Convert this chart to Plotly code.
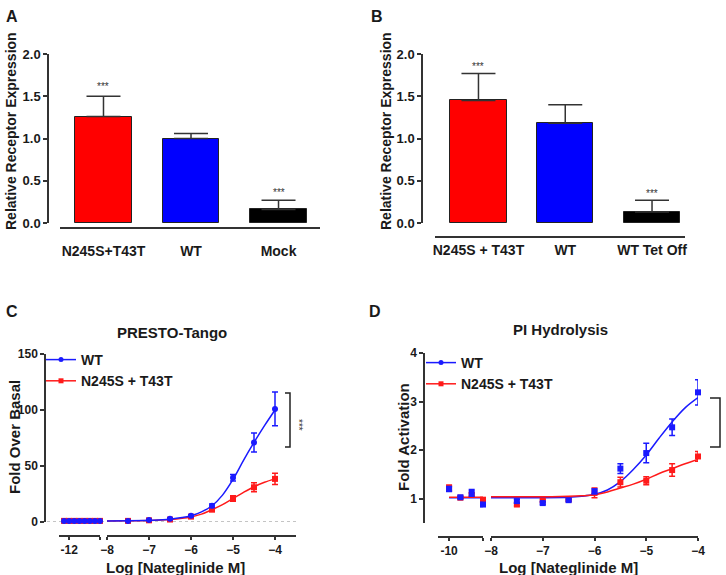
import plotly.graph_objects as go

W, H = 726, 575
def fx(p):
    return p / W
def fy(p):
    return 1 - p / H

FONT = "Liberation Sans, Arial, sans-serif"
TXT = "#1a1a1a"
AXC = "#333333"
BLUE = "#1a1aff"
RED = "#ff1a1a"

# ---------------- Panel A data ----------------
a_cats = ["N245S+T43T", "WT", "Mock"]
a_vals = [1.26, 1.00, 0.16]
a_err = [0.24, 0.06, 0.11]
a_sig = ["***", "", "***"]
a_sig_y = [1.62, None, 0.36]

# ---------------- Panel B data ----------------
b_cats = ["N245S + T43T", "WT", "WT Tet Off"]
b_vals = [1.45, 1.18, 0.13]
b_err = [0.32, 0.22, 0.14]
b_sig = ["***", "", "***"]
b_sig_y = [1.85, None, 0.355]

bar_colors = ["#ff0000", "#0000ff", "#000000"]

# ---------------- Panel C data (PRESTO-Tango) ----------------
c_left_x = [-12.5, -12.0, -11.5, -11.0, -10.5, -10.0, -9.5, -9.0]
c_left_wt = [1.0, 1.0, 1.0, 1.0, 1.0, 1.0, 1.0, 1.0]
c_left_mut = [1.0, 1.0, 1.0, 1.0, 1.0, 1.0, 1.0, 1.0]
c_x = [-7.5, -7.0, -6.5, -6.0, -5.5, -5.0, -4.5, -4.0]
c_wt = [1.0, 1.8, 2.8, 5.6, 14.5, 39.5, 71.0, 101.0]
c_wt_err = [0.3, 0.4, 0.5, 0.8, 1.5, 3.0, 8.5, 15.0]
c_mut = [1.0, 1.5, 2.2, 4.8, 11.0, 21.0, 31.0, 38.5]
c_mut_err = [0.3, 0.4, 0.5, 0.8, 1.5, 2.5, 4.0, 5.0]
c_fit_x = [-8.0, -7.5, -7.0, -6.5, -6.0, -5.75, -5.5, -5.25, -5.0, -4.75, -4.5, -4.25, -4.0]
c_fit_wt = [1.0, 1.1, 1.5, 2.5, 5.5, 9.0, 14.5, 24.0, 38.0, 55.0, 71.0, 86.0, 100.0]
c_fit_mut = [1.0, 1.1, 1.3, 2.2, 4.5, 7.0, 11.0, 15.5, 21.0, 26.5, 31.5, 35.5, 38.5]

# ---------------- Panel D data (PI Hydrolysis) ----------------
d_left_x = [-10.0, -9.5, -9.0, -8.5]
d_left_wt = [1.20, 1.03, 1.12, 0.88]
d_left_wt_err = [0.05, 0.02, 0.07, 0.04]
d_left_mut = [1.22, 1.02, 1.08, 0.98]
d_left_mut_err = [0.06, 0.02, 0.04, 0.04]
d_left_fit_x = [-10.0, -8.5]
d_left_fit_wt = [1.02, 1.02]
d_left_fit_mut = [1.03, 1.03]
d_x = [-7.5, -7.0, -6.5, -6.0, -5.5, -5.0, -4.5, -4.0]
d_wt = [0.95, 0.91, 0.97, 1.15, 1.62, 1.94, 2.47, 3.19]
d_wt_err = [0.04, 0.03, 0.02, 0.05, 0.10, 0.20, 0.17, 0.26]
d_mut = [0.88, 0.96, 0.98, 1.12, 1.34, 1.37, 1.59, 1.87]
d_mut_err = [0.03, 0.03, 0.02, 0.10, 0.10, 0.08, 0.13, 0.10]
d_fit_x = [-8.0, -7.5, -7.0, -6.5, -6.25, -6.0, -5.75, -5.5, -5.25, -5.0, -4.75, -4.5, -4.25, -4.0]
d_fit_wt = [1.02, 1.02, 1.02, 1.03, 1.05, 1.09, 1.18, 1.35, 1.60, 1.90, 2.25, 2.58, 2.87, 3.08]
d_fit_mut = [1.04, 1.04, 1.04, 1.05, 1.06, 1.08, 1.14, 1.22, 1.30, 1.40, 1.52, 1.62, 1.72, 1.81]

series_names = ["WT", "N245S + T43T"]

fig = go.Figure()

# ---------------- Bars ----------------
for xa, ya, vals, errs in [("x", "y", a_vals, a_err), ("x2", "y2", b_vals, b_err)]:
    fig.add_trace(go.Bar(
        x=[0, 1, 2], y=vals, width=0.65, xaxis=xa, yaxis=ya, showlegend=False,
        marker=dict(color=bar_colors, line=dict(color="#222222", width=1)),
        error_y=dict(type="data", symmetric=False, array=errs, arrayminus=[0, 0, 0],
                     color=AXC, thickness=1.5, width=17),
    ))

# ---------------- Curves + points ----------------
def add_dose(xa, ya, x, y, err, color, symbol, mode="markers"):
    fig.add_trace(go.Scatter(
        x=x, y=y, xaxis=xa, yaxis=ya, mode=mode, showlegend=False, cliponaxis=False,
        marker=dict(color=color, size=6, symbol=symbol),
        line=dict(color=color, width=1.5),
        error_y=None if err is None else dict(type="data", array=err, color=color, thickness=1.5, width=3),
    ))

def add_fit(xa, ya, x, y, color):
    fig.add_trace(go.Scatter(
        x=x, y=y, xaxis=xa, yaxis=ya, mode="lines", showlegend=False, cliponaxis=False,
        line=dict(color=color, width=1.5, shape="spline", smoothing=1.0),
    ))

# Panel C
add_dose("x3", "y3", c_left_x, c_left_mut, None, RED, "square", "lines+markers")
add_dose("x3", "y3", c_left_x, c_left_wt, None, BLUE, "circle", "lines+markers")
add_fit("x4", "y3", c_fit_x, c_fit_mut, RED)
add_fit("x4", "y3", c_fit_x, c_fit_wt, BLUE)
add_dose("x4", "y3", c_x, c_mut, c_mut_err, RED, "square")
add_dose("x4", "y3", c_x, c_wt, c_wt_err, BLUE, "circle")

# Panel D
add_fit("x5", "y4", d_left_fit_x, d_left_fit_wt, BLUE)
add_fit("x5", "y4", d_left_fit_x, d_left_fit_mut, RED)
add_dose("x5", "y4", d_left_x, d_left_mut, d_left_mut_err, RED, "square")
add_dose("x5", "y4", d_left_x, d_left_wt, d_left_wt_err, BLUE, "square")
add_fit("x6", "y4", d_fit_x, d_fit_wt, BLUE)
add_fit("x6", "y4", d_fit_x, d_fit_mut, RED)
add_dose("x6", "y4", d_x, d_mut, d_mut_err, RED, "square")
add_dose("x6", "y4", d_x, d_wt, d_wt_err, BLUE, "square")

# legend-only entries
for lg, xa, ya in [("legend", "x4", "y3"), ("legend2", "x6", "y4")]:
    for name, color, sym in zip(series_names, [BLUE, RED], ["circle", "square"]):
        fig.add_trace(go.Scatter(
            x=[None], y=[None], xaxis=xa, yaxis=ya, mode="lines+markers", name=name,
            legend=lg, marker=dict(color=color, size=5, symbol=sym),
            line=dict(color=color, width=1.5),
        ))

# ---------------- Axes ----------------
base = dict(showline=True, linecolor=AXC, linewidth=1.5, showgrid=False, zeroline=False,
            automargin=False, ticks="outside", ticklen=3, tickwidth=1.5, tickcolor=AXC,
            tickfont=dict(family=FONT, size=12, color=TXT, weight="bold"))

def xax(d0, d1, pos, **kw):
    a = dict(base)
    a.update(domain=[fx(d0), fx(d1)], anchor="free", position=fy(pos))
    a.update(kw)
    return a

def yax(d0, d1, pos, **kw):
    a = dict(base)
    a.update(domain=[fy(d1), fy(d0)], anchor="free", position=fx(pos))
    a.update(kw)
    return a

bar_tickfont = dict(family=FONT, size=14, color=TXT, weight="bold")
ytick13 = dict(family=FONT, size=13, color=TXT, weight="bold")

fig.update_layout(
    template="none",
    xaxis=xax(60, 320, 228, range=[-0.497, 2.474], tickvals=[0, 1, 2], ticktext=a_cats,
              ticks="", tickfont=bar_tickfont, ticklabelstandoff=10),
    yaxis=yax(54, 223, 48, range=[0, 2], dtick=0.5, tickformat=".1f", tickfont=ytick13, ticklen=4),
    xaxis2=xax(435, 685, 237, range=[-0.501, 2.38], tickvals=[0, 1, 2], ticktext=b_cats,
               ticks="", tickfont=bar_tickfont, ticklabelstandoff=0),
    yaxis2=yax(54, 223, 422, range=[0, 2], dtick=0.5, tickformat=".1f", tickfont=ytick13, ticklen=4),
    yaxis3=yax(354, 522, 45, range=[0, 150], dtick=50, ticklen=4),
    xaxis3=xax(59, 100, 536, range=[-12.99, -9.0], tickvals=[-12, -9], ticktext=["-12", ""]),
    xaxis4=xax(107, 296, 536, range=[-8, -3.5], tickvals=[-8, -7, -6, -5, -4]),
    yaxis4=yax(353, 523, 424, range=[0.5, 4], tickvals=[1, 2, 3, 4], ticklen=4),
    xaxis5=xax(438, 483, 537, range=[-10.49, -8.5], tickvals=[-10, -8.5], ticktext=["-10", ""]),
    xaxis6=xax(491, 698, 537, range=[-8, -4], tickvals=[-8, -7, -6, -5, -4]),
)

legend_style = dict(font=dict(family=FONT, size=14, color=TXT, weight="bold"),
                    bgcolor="rgba(0,0,0,0)", itemwidth=30, tracegroupgap=0,
                    xanchor="left", yanchor="top", traceorder="normal")
fig.update_layout(
    legend=dict(legend_style, x=fx(41), y=fy(344)),
    legend2=dict(legend_style, x=fx(421), y=fy(347)),
)

# ---------------- Annotations ----------------
ann = []
def text(x, y, s, size, xref="paper", yref="paper", angle=0, color=TXT, bold=True):
    ann.append(dict(x=x, y=y, xref=xref, yref=yref, text=s, showarrow=False, textangle=angle,
                    xanchor="center", yanchor="middle",
                    font=dict(family=FONT, size=size, color=color, weight="bold" if bold else "normal")))

for lbl, px, py in [("A", 12, 16), ("B", 377, 16), ("C", 12, 311), ("D", 375, 311)]:
    text(fx(px), fy(py), lbl, 16)

text(fx(11), fy(131), "Relative Receptor Expression", 14, angle=-90)
text(fx(386), fy(131), "Relative Receptor Expression", 14, angle=-90)
text(fx(14), fy(437), "Fold Over Basal", 15, angle=-90)
text(fx(403), fy(437), "Fold Activation", 15, angle=-90)
text(fx(175), fy(567), "Log [Nateglinide M]", 15)
text(fx(568), fy(567), "Log [Nateglinide M]", 15)
text(fx(172), fy(332), "PRESTO-Tango", 15)
text(fx(560), fy(329), "PI Hydrolysis", 15)

for i, (s, yy) in enumerate(zip(a_sig, a_sig_y)):
    if s:
        text(i, yy, s, 10, xref="x", yref="y", color="#333333", bold=False)
for i, (s, yy) in enumerate(zip(b_sig, b_sig_y)):
    if s:
        text(i, yy, s, 10, xref="x2", yref="y2", color="#333333", bold=False)
text(fx(299), fy(425), "***", 10, angle=90, color="#333333", bold=False)

shapes = [
    dict(type="line", xref="paper", yref="y3", x0=fx(47), x1=fx(296), y0=0, y1=0,
         line=dict(color="#888888", width=1, dash="dot"), layer="below"),
    dict(type="path", xref="paper", yref="paper",
         path=f"M {fx(285)},{fy(393)} L {fx(290)},{fy(393)} L {fx(290)},{fy(447)} L {fx(285)},{fy(447)}",
         line=dict(color="#222222", width=1.5)),
    dict(type="path", xref="paper", yref="paper",
         path=f"M {fx(710)},{fy(398)} L {fx(720)},{fy(398)} L {fx(720)},{fy(447)} L {fx(710)},{fy(447)}",
         line=dict(color="#222222", width=1.5)),
]

fig.update_layout(
    width=W, height=H, margin=dict(l=0, r=0, t=0, b=0, autoexpand=False),
    paper_bgcolor="white", plot_bgcolor="white",
    annotations=ann, shapes=shapes, bargap=0,
    font=dict(family=FONT, color=TXT),
)

fig.write_html("out.html")
